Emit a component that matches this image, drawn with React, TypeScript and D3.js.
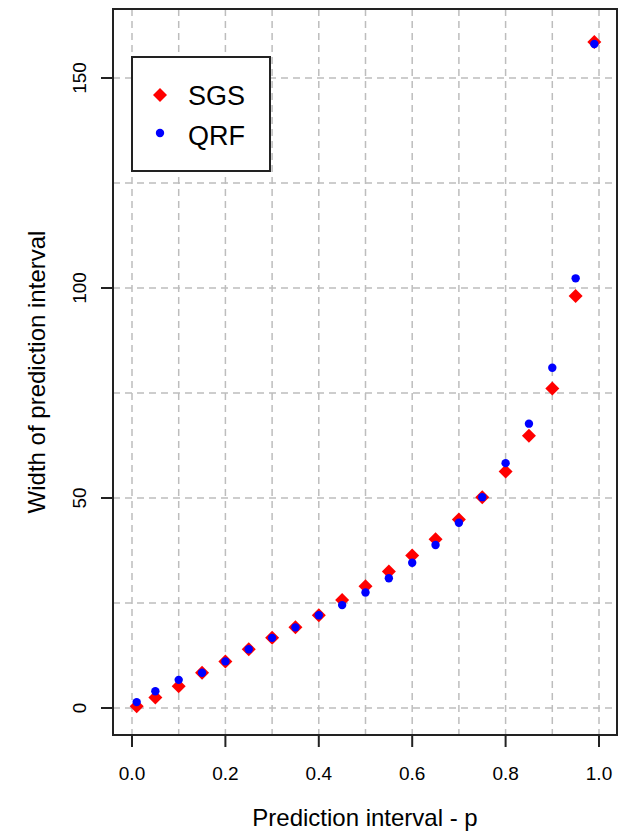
import * as d3 from "d3";
import React from "react";

// prediction interval levels p
const pLevels = [0.01, 0.05, 0.1, 0.15, 0.2, 0.25, 0.3, 0.35, 0.4, 0.45, 0.5, 0.55, 0.6, 0.65, 0.7, 0.75, 0.8, 0.85, 0.9, 0.95, 0.99];
// width of prediction interval
const sgsWidth = [0.4, 2.5, 5.2, 8.4, 11.1, 14.0, 16.7, 19.2, 22.1, 25.7, 29.0, 32.5, 36.3, 40.2, 44.9, 50.2, 56.3, 64.8, 76.1, 98.1, 158.6];
const qrfWidth = [1.4, 4.0, 6.7, 8.4, 11.1, 14.0, 16.7, 19.2, 22.1, 24.5, 27.5, 30.9, 34.6, 38.8, 44.1, 50.2, 58.3, 67.7, 81.0, 102.3, 158.1];

const xTicks = [0, 0.2, 0.4, 0.6, 0.8, 1.0];
const yTicks = [0, 50, 100, 150];
const xGrid = d3.range(0, 11).map((i) => i / 10);
const yGrid = [0, 25, 50, 75, 100, 125, 150];

const legendItems = ["SGS", "QRF"];

const W = 625;
const H = 833;
const box = { left: 113, right: 617, top: 9, bottom: 735 };

const App = () => {
  const x = d3.scaleLinear().domain([0, 1]).range([132, 599]);
  const y = d3.scaleLinear().domain([0, 150]).range([708, 78]);

  const sgs = pLevels.map((p, i) => ({ p, v: sgsWidth[i] }));
  const qrf = pLevels.map((p, i) => ({ p, v: qrfWidth[i] }));

  const diamond = (cx, cy, r) => `M${cx},${cy - r}L${cx + r},${cy}L${cx},${cy + r}L${cx - r},${cy}Z`;

  const font = "Liberation Sans, Arial, sans-serif";
  const grid = { stroke: "#bdbdbd", strokeWidth: 1.5, strokeDasharray: "7,5" };

  return (
    <svg width={W} height={H} style={{ position: "absolute", left: 0, top: 0, background: "#fff" }} fontFamily={font}>
      {/* grid */}
      {xGrid.map((t) => (
        <line key={"gx" + t} x1={x(t)} x2={x(t)} y1={box.top} y2={box.bottom} {...grid} />
      ))}
      {yGrid.map((t) => (
        <line key={"gy" + t} x1={box.left} x2={box.right} y1={y(t)} y2={y(t)} {...grid} />
      ))}

      {/* box */}
      <rect x={box.left} y={box.top} width={box.right - box.left} height={box.bottom - box.top} fill="none" stroke="#222" strokeWidth={2} />

      {/* x axis */}
      {xTicks.map((t) => (
        <g key={"xt" + t}>
          <line x1={x(t)} x2={x(t)} y1={box.bottom} y2={box.bottom + 12} stroke="#222" strokeWidth={2} />
          <text x={x(t)} y={780} textAnchor="middle" fontSize={19}>
            {d3.format(".1f")(t)}
          </text>
        </g>
      ))}
      <text x={(box.left + box.right) / 2} y={826} textAnchor="middle" fontSize={24}>
        Prediction interval - p
      </text>

      {/* y axis */}
      {yTicks.map((t) => (
        <g key={"yt" + t}>
          <line x1={box.left - 12} x2={box.left} y1={y(t)} y2={y(t)} stroke="#222" strokeWidth={2} />
          <text transform={`translate(86,${y(t)}) rotate(-90)`} textAnchor="middle" fontSize={19}>
            {t}
          </text>
        </g>
      ))}
      <text transform={`translate(45,${(box.top + box.bottom) / 2}) rotate(-90)`} textAnchor="middle" fontSize={24}>
        Width of prediction interval
      </text>

      {/* points */}
      {sgs.map((d) => (
        <path key={"s" + d.p} d={diamond(x(d.p), y(d.v), 7)} fill="#ff0000" />
      ))}
      {qrf.map((d) => (
        <circle key={"q" + d.p} cx={x(d.p)} cy={y(d.v)} r={4.2} fill="#0000ff" />
      ))}

      {/* legend */}
      <rect x={132} y={57} width={138} height={114} fill="#fff" stroke="#222" strokeWidth={2} />
      {legendItems.map((name, i) => (
        <g key={name}>
          {i === 0 ? (
            <path d={diamond(160, 95, 7)} fill="#ff0000" />
          ) : (
            <circle cx={160} cy={133} r={4.2} fill="#0000ff" />
          )}
          <text x={188} y={105 + i * 40} fontSize={27}>
            {name}
          </text>
        </g>
      ))}
    </svg>
  );
};

export default App;
